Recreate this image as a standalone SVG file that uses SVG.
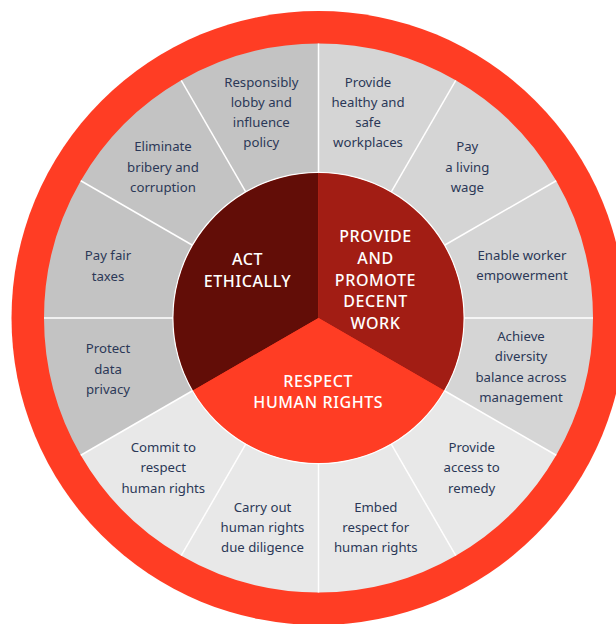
<svg xmlns="http://www.w3.org/2000/svg" width="616" height="624" viewBox="0 0 616 624">
<style>
.g1{fill:#c3c3c3}
.g2{fill:#d5d5d5}
.g3{fill:#e8e8e8}
.t{font-family:"Noto Sans","Liberation Sans",sans-serif;font-size:13.2px;fill:#2b3857;text-anchor:middle}
.h{font-family:"Noto Sans","Liberation Sans",sans-serif;font-size:16px;font-weight:500;letter-spacing:0.6px;fill:#ffffff;text-anchor:middle}
.sep{stroke:#ffffff;stroke-width:1.5;fill:none}
</style>
<rect x="0" y="0" width="616" height="624" fill="#ffffff"/>
<circle id="outer-ring" cx="318.5" cy="318" r="307" fill="#ff3d24"/>

<g id="seg-lobby">
<path class="g1" transform="translate(318.5 318)" d="M0,-274.5 A274.5,274.5 0 0 0 -137.25,-237.72 L-72.5,-125.57 A145,145 0 0 1 0,-145 Z"/>
<text class="t" x="261.3" y="86.5">Responsibly</text>
<text class="t" x="261.3" y="106.8">lobby and</text>
<text class="t" x="261.3" y="127.1">influence</text>
<text class="t" x="261.3" y="147.4">policy</text>
</g>
<g id="seg-bribery">
<path class="g1" transform="translate(318.5 318)" d="M-137.25,-237.72 A274.5,274.5 0 0 0 -237.72,-137.25 L-125.57,-72.5 A145,145 0 0 1 -72.5,-125.57 Z"/>
<text class="t" x="163" y="151">Eliminate</text>
<text class="t" x="163" y="171.5">bribery and</text>
<text class="t" x="163" y="192">corruption</text>
</g>
<g id="seg-taxes">
<path class="g1" transform="translate(318.5 318)" d="M-237.72,-137.25 A274.5,274.5 0 0 0 -274.5,0 L-145,0 A145,145 0 0 1 -125.57,-72.5 Z"/>
<text class="t" x="108" y="260">Pay fair</text>
<text class="t" x="108" y="280.5">taxes</text>
</g>
<g id="seg-privacy">
<path class="g1" transform="translate(318.5 318)" d="M-274.5,0 A274.5,274.5 0 0 0 -237.72,137.25 L-125.57,72.5 A145,145 0 0 1 -145,0 Z"/>
<text class="t" x="108" y="353.3">Protect</text>
<text class="t" x="108" y="373.6">data</text>
<text class="t" x="108" y="393.9">privacy</text>
</g>

<g id="seg-healthy">
<path class="g2" transform="translate(318.5 318)" d="M137.25,-237.72 A274.5,274.5 0 0 0 0,-274.5 L0,-145 A145,145 0 0 1 72.5,-125.57 Z"/>
<text class="t" x="368" y="86.5">Provide</text>
<text class="t" x="368" y="106.8">healthy and</text>
<text class="t" x="368" y="127.1">safe</text>
<text class="t" x="368" y="147.4">workplaces</text>
</g>
<g id="seg-wage">
<path class="g2" transform="translate(318.5 318)" d="M237.72,-137.25 A274.5,274.5 0 0 0 137.25,-237.72 L72.5,-125.57 A145,145 0 0 1 125.57,-72.5 Z"/>
<text class="t" x="467.3" y="151">Pay</text>
<text class="t" x="467.3" y="171.5">a living</text>
<text class="t" x="467.3" y="192">wage</text>
</g>
<g id="seg-empowerment">
<path class="g2" transform="translate(318.5 318)" d="M274.5,0 A274.5,274.5 0 0 0 237.72,-137.25 L125.57,-72.5 A145,145 0 0 1 145,0 Z"/>
<text class="t" x="522" y="259.5">Enable worker</text>
<text class="t" x="522" y="280">empowerment</text>
</g>
<g id="seg-diversity">
<path class="g2" transform="translate(318.5 318)" d="M237.72,137.25 A274.5,274.5 0 0 0 274.5,0 L145,0 A145,145 0 0 1 125.57,72.5 Z"/>
<text class="t" x="521" y="340.7">Achieve</text>
<text class="t" x="521" y="361.1">diversity</text>
<text class="t" x="521" y="381.5">balance across</text>
<text class="t" x="521" y="401.9">management</text>
</g>

<g id="seg-remedy">
<path class="g3" transform="translate(318.5 318)" d="M137.25,237.72 A274.5,274.5 0 0 0 237.72,137.25 L125.57,72.5 A145,145 0 0 1 72.5,125.57 Z"/>
<text class="t" x="471.7" y="451.7">Provide</text>
<text class="t" x="471.7" y="472.2">access to</text>
<text class="t" x="471.7" y="492.7">remedy</text>
</g>
<g id="seg-embed">
<path class="g3" transform="translate(318.5 318)" d="M0,274.5 A274.5,274.5 0 0 0 137.25,237.72 L72.5,125.57 A145,145 0 0 1 0,145 Z"/>
<text class="t" x="375.8" y="511.7">Embed</text>
<text class="t" x="375.8" y="532.1">respect for</text>
<text class="t" x="375.8" y="552.4">human rights</text>
</g>
<g id="seg-diligence">
<path class="g3" transform="translate(318.5 318)" d="M-137.25,237.72 A274.5,274.5 0 0 0 0,274.5 L0,145 A145,145 0 0 1 -72.5,125.57 Z"/>
<text class="t" x="262.5" y="511.7">Carry out</text>
<text class="t" x="262.5" y="532.1">human rights</text>
<text class="t" x="262.5" y="552.4">due diligence</text>
</g>
<g id="seg-commit">
<path class="g3" transform="translate(318.5 318)" d="M-237.72,137.25 A274.5,274.5 0 0 0 -137.25,237.72 L-72.5,125.57 A145,145 0 0 1 -125.57,72.5 Z"/>
<text class="t" x="163.3" y="451.7">Commit to</text>
<text class="t" x="163.3" y="472.2">respect</text>
<text class="t" x="163.3" y="492.7">human rights</text>
</g>

<g id="separators" class="sep" transform="translate(318.5 318)">
<line x1="145" y1="0" x2="274.5" y2="0"/>
<line x1="125.57" y1="-72.5" x2="237.72" y2="-137.25"/>
<line x1="72.5" y1="-125.57" x2="137.25" y2="-237.72"/>
<line x1="0" y1="-145" x2="0" y2="-274.5"/>
<line x1="-72.5" y1="-125.57" x2="-137.25" y2="-237.72"/>
<line x1="-125.57" y1="-72.5" x2="-237.72" y2="-137.25"/>
<line x1="-145" y1="0" x2="-274.5" y2="0"/>
<line x1="-125.57" y1="72.5" x2="-237.72" y2="137.25"/>
<line x1="-72.5" y1="125.57" x2="-137.25" y2="237.72"/>
<line x1="0" y1="145" x2="0" y2="274.5"/>
<line x1="72.5" y1="125.57" x2="137.25" y2="237.72"/>
<line x1="125.57" y1="72.5" x2="237.72" y2="137.25"/>
</g>

<circle cx="318.5" cy="318" r="145.5" fill="none" stroke="#ffffff" stroke-width="1.5"/>

<g id="core-ethically">
<path transform="translate(318.5 318)" d="M0,0 L0,-145 A145,145 0 0 0 -125.57,72.5 Z" fill="#620d07"/>
<text class="h" x="247.5" y="265">ACT</text>
<text class="h" x="247.5" y="286.7">ETHICALLY</text>
</g>
<g id="core-decent-work">
<path transform="translate(318.5 318)" d="M0,0 L0,-145 A145,145 0 0 1 125.57,72.5 Z" fill="#a21d14"/>
<text class="h" x="375.5" y="241.7">PROVIDE</text>
<text class="h" x="375.5" y="263.6">AND</text>
<text class="h" x="375.5" y="285.5">PROMOTE</text>
<text class="h" x="375.5" y="307.4">DECENT</text>
<text class="h" x="375.5" y="329.3">WORK</text>
</g>
<g id="core-human-rights">
<path transform="translate(318.5 318)" d="M0,0 L125.57,72.5 A145,145 0 0 1 -125.57,72.5 Z" fill="#ff3d24"/>
<text class="h" x="318.3" y="386.7">RESPECT</text>
<text class="h" x="318.3" y="408.3">HUMAN RIGHTS</text>
</g>
</svg>
